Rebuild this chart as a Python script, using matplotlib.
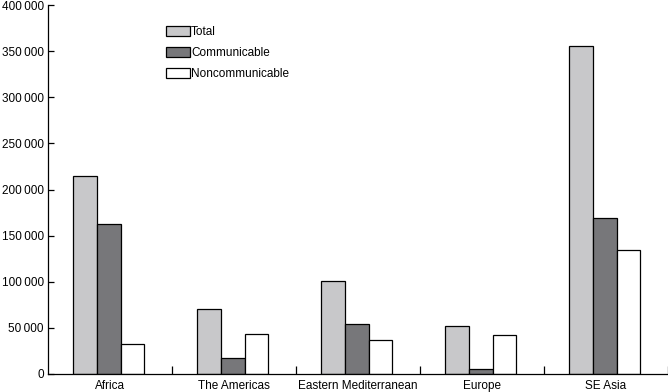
import numpy as np
import matplotlib.pyplot as plt
from matplotlib.patches import Patch
from matplotlib.ticker import FuncFormatter

plt.rcParams['font.family'] = ['Liberation Sans', 'DejaVu Sans']

regions = ['Africa', 'The Americas', 'Eastern Mediterranean', 'Europe', 'SE Asia']
total = [215000, 71000, 101000, 51500, 356000]
communicable = [163000, 17000, 54000, 5000, 169500]
noncommunicable = [33000, 43000, 36500, 42000, 134000]
series_names = ['Total', 'Communicable', 'Noncommunicable']
colors = ['#c8c8ca', '#77777a', '#ffffff']

fig = plt.figure(figsize=(6.68, 3.92), dpi=100)
ax = fig.add_axes([48/668, 18/392, 620/668, 369/392])

x = np.arange(len(regions))
w = 0.19
for k, vals in enumerate([total, communicable, noncommunicable]):
    ax.bar(x + (k - 1) * w - 0.01, vals, w, color=colors[k], edgecolor='black', linewidth=0.9)

ax.set_xlim(-0.5, len(regions) - 0.5)
ax.set_ylim(0, 400000)
ax.set_yticks(np.arange(0, 400001, 50000))
ax.yaxis.set_major_formatter(FuncFormatter(lambda v, p: f'{int(v):,}'.replace(',', '\u2009')))
ax.set_xticks(x)
ax.set_xticklabels(regions)
ax.set_xticks(np.arange(0.5, len(regions)), minor=True)
ax.tick_params(axis='x', which='major', length=0, pad=4, labelsize=8.5)
ax.tick_params(axis='x', which='minor', direction='in', length=6, width=0.9)
ax.tick_params(axis='y', direction='in', length=4, width=0.9, labelsize=8.5, pad=3)
for s in ['top', 'right']:
    ax.spines[s].set_visible(False)
for s in ['left', 'bottom']:
    ax.spines[s].set_linewidth(0.9)

handles = [Patch(facecolor=c, edgecolor='black', linewidth=0.9) for c in colors]
fig.legend(handles, series_names, loc='upper left', bbox_to_anchor=(158/668, 1 - 18/392),
           frameon=False, fontsize=8.5, handlelength=2.0, handleheight=0.9,
           handletextpad=0.1, labelspacing=0.75, borderpad=0.2)

fig.savefig('out.png', dpi=100)
